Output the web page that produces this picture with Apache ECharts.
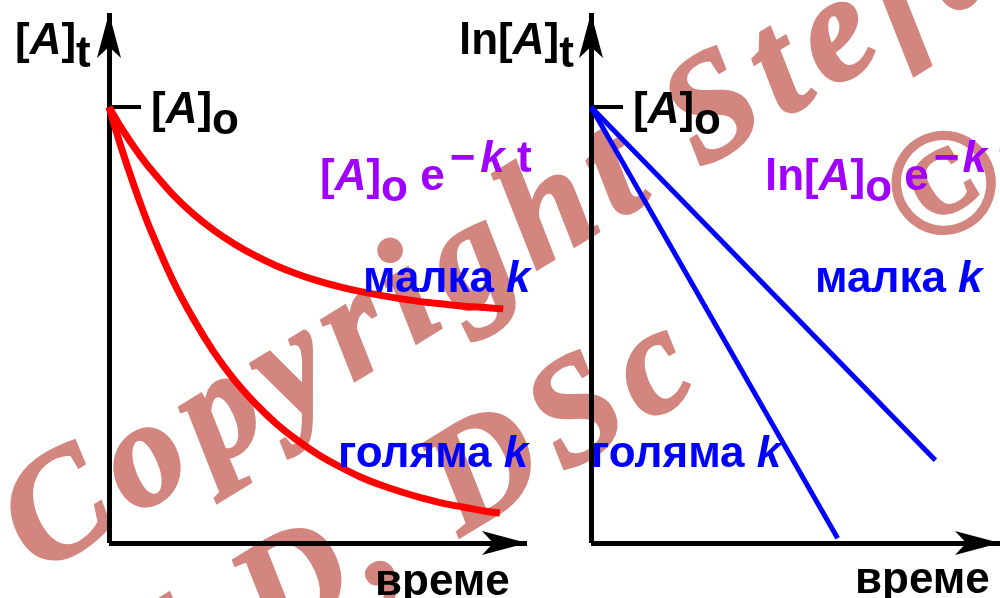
<!DOCTYPE html>
<html>
<head>
<meta charset="utf-8">
<script src="https://cdn.jsdelivr.net/npm/echarts@6/dist/echarts.min.js"></script>
<style>
  html, body { margin: 0; padding: 0; background: #fff; }
  #chart { width: 1000px; height: 598px; }
</style>
</head>
<body>
<div id="chart"></div>
<script>
// First-order kinetics: [A]t against time (left) and ln[A]t against time (right).
// Time in arbitrary units, concentration as a fraction of [A]o.
const timeSmallK = [0, 0.25, 0.5, 0.75, 1, 1.5, 2, 2.5, 3, 3.5, 4, 4.5, 5, 5.5, 6, 6.5, 7, 7.5, 8, 8.5, 9, 9.43];
const concSmallK = [1, 0.959, 0.922, 0.888, 0.857, 0.802, 0.756, 0.718, 0.686, 0.659, 0.636, 0.617,
                    0.601, 0.588, 0.577, 0.568, 0.560, 0.553, 0.548, 0.543, 0.540, 0.537];
const timeLargeK = [0, 0.25, 0.5, 0.75, 1, 1.5, 2, 2.5, 3, 3.5, 4, 4.5, 5, 5.5, 6, 6.5, 7, 7.5, 8, 8.5, 9, 9.35];
const concLargeK = [1, 0.920, 0.847, 0.779, 0.717, 0.608, 0.517, 0.439, 0.374, 0.320, 0.274, 0.236,
                    0.203, 0.176, 0.152, 0.133, 0.117, 0.103, 0.091, 0.082, 0.073, 0.069];
// Logarithmic plot: straight lines starting from ln[A]o
const lnTimeSmallK = [0, 8.42];
const lnSmallK = [1, 0.190];
const lnTimeLargeK = [0, 6.03];
const lnLargeK = [1, 0.011];
// Axis ranges; the single tick marks the starting value
const timeMax = 10;
const concMax = 1.2156;
const startTicks = [1];

const pairs = (xs, ys) => xs.map((x, i) => [x, ys[i]]);

const chart = echarts.init(document.getElementById('chart'), null, { renderer: 'canvas' });

const SANS = '"Liberation Sans", Arial, sans-serif';
const SERIF = '"Liberation Serif", "Times New Roman", serif';
const FS = 44;
const BLACK = '#000000', RED = '#ff0000', BLUE = '#0000ff', PURPLE = '#a000ff';
const WM_COLOR = '#d3857f';

const mctx = document.createElement('canvas').getContext('2d');
function sansFont(italic) { return (italic ? 'italic ' : '') + 'bold ' + FS + 'px ' + SANS; }
function middleOffset(font) {
  mctx.font = font;
  mctx.textBaseline = 'middle';
  return mctx.measureText('H').actualBoundingBoxDescent;
}
function advance(font, s) {
  mctx.font = font;
  mctx.textBaseline = 'alphabetic';
  return mctx.measureText(s).width;
}

// A label made of runs: [text, italic, baseline shift, extra gap before]
function runLabel(x, baseline, runs, color) {
  const els = [];
  let cx = x;
  runs.forEach(([s, italic, dy, dx]) => {
    const font = sansFont(italic);
    const off = middleOffset(font);
    cx += dx || 0;
    els.push({
      type: 'text', x: cx, y: baseline + (dy || 0) - off, z: 100, silent: true,
      style: { text: s, font: font, fill: color, align: 'left', verticalAlign: 'middle' }
    });
    cx += advance(font, s);
  });
  return els;
}

// Watermark letters laid along a rotated baseline with extra tracking
const WM_ANGLE = 31.5 * Math.PI / 180;
function watermark(text, t0, n, size, track) {
  const font = 'italic bold ' + size + 'px ' + SERIF;
  const off = middleOffset(font);
  const c = Math.cos(WM_ANGLE), s = Math.sin(WM_ANGLE);
  const els = [];
  let t = t0;
  for (const ch of text) {
    const w = advance(font, ch);
    if (ch !== ' ') {
      const nm = n - off;
      els.push({
        type: 'text', x: t * c + nm * s, y: -t * s + nm * c, rotation: WM_ANGLE, z: -10, silent: true,
        style: { text: ch, font: font, fill: WM_COLOR, stroke: WM_COLOR, lineWidth: 3,
                 align: 'left', verticalAlign: 'middle' }
      });
    }
    t += w + track;
  }
  return els;
}

const axisLine = {
  show: true, onZero: false,
  symbol: ['none', 'arrow'], symbolSize: [18, 45],
  lineStyle: { color: BLACK, width: 5, cap: 'butt' }
};

function xAxisFor(gi) {
  return {
    gridIndex: gi, type: 'value', min: 0, max: timeMax,
    axisLine: axisLine, axisTick: { show: false }, axisLabel: { show: false }, splitLine: { show: false }
  };
}
function yAxisFor(gi) {
  return {
    gridIndex: gi, type: 'value', min: 0, max: concMax,
    axisLine: axisLine,
    axisTick: { show: true, inside: true, length: 32, customValues: startTicks,
                lineStyle: { color: BLACK, width: 4 } },
    axisLabel: { show: false }, splitLine: { show: false }
  };
}

const graphics = [].concat(
  watermark('Copyright', -268, 510, 150, 13),
  watermark('Stefan', 509, 510, 150, 13),
  watermark('PhD, DSc', -311, 698, 150, 13),
  watermark('\u00a9', 652, 698, 150, 13),

  runLabel(15, 54, [['[', false], ['A', true], [']', false], ['t', false, 13]], BLACK),
  runLabel(151, 123, [['[', false], ['A', true], [']', false], ['o', false, 11]], BLACK),
  runLabel(320, 190, [['[', false], ['A', true], [']', false], ['o', false, 11], [' e', false],
                      ['\u2212', false, -18, 5], ['k', true, -18, 5], [' t', false, -18]], PURPLE),
  runLabel(363, 292, [['малка ', false], ['k', true]], BLUE),
  runLabel(338, 467, [['голяма ', false], ['k', true]], BLUE),
  runLabel(375, 595, [['време', false]], BLACK),

  runLabel(459, 54, [['ln[', false], ['A', true], [']', false], ['t', false, 13]], BLACK),
  runLabel(633, 123, [['[', false], ['A', true], [']', false], ['o', false, 11]], BLACK),
  runLabel(765, 190, [['ln[', false], ['A', true], [']', false], ['o', false, 11], [' e', false],
                      ['\u2212', false, -18, 5], ['k', true, -18, 3], [' t', false, -18]], PURPLE),
  runLabel(815, 292, [['малка ', false], ['k', true]], BLUE),
  runLabel(591, 467, [['голяма ', false], ['k', true]], BLUE),
  runLabel(855, 593, [['време', false]], BLACK)
);

const lineBase = { type: 'line', showSymbol: false, silent: true, z: 5, animation: false };

chart.setOption({
  animation: false,
  backgroundColor: '#ffffff',
  grid: [
    { left: 109, top: 13, width: 418, bottom: 55 },
    { left: 591, top: 13, width: 418, bottom: 55 }
  ],
  xAxis: [xAxisFor(0), xAxisFor(1)],
  yAxis: [yAxisFor(0), yAxisFor(1)],
  series: [
    Object.assign({}, lineBase, { name: 'малка k', xAxisIndex: 0, yAxisIndex: 0, smooth: 0.25,
      data: pairs(timeSmallK, concSmallK), lineStyle: { color: RED, width: 7 } }),
    Object.assign({}, lineBase, { name: 'голяма k', xAxisIndex: 0, yAxisIndex: 0, smooth: 0.25,
      data: pairs(timeLargeK, concLargeK), lineStyle: { color: RED, width: 7 } }),
    Object.assign({}, lineBase, { name: 'ln малка k', xAxisIndex: 1, yAxisIndex: 1,
      data: pairs(lnTimeSmallK, lnSmallK), lineStyle: { color: BLUE, width: 5 } }),
    Object.assign({}, lineBase, { name: 'ln голяма k', xAxisIndex: 1, yAxisIndex: 1,
      data: pairs(lnTimeLargeK, lnLargeK), lineStyle: { color: BLUE, width: 5 } })
  ],
  graphic: { elements: graphics }
});
</script>
</body>
</html>
